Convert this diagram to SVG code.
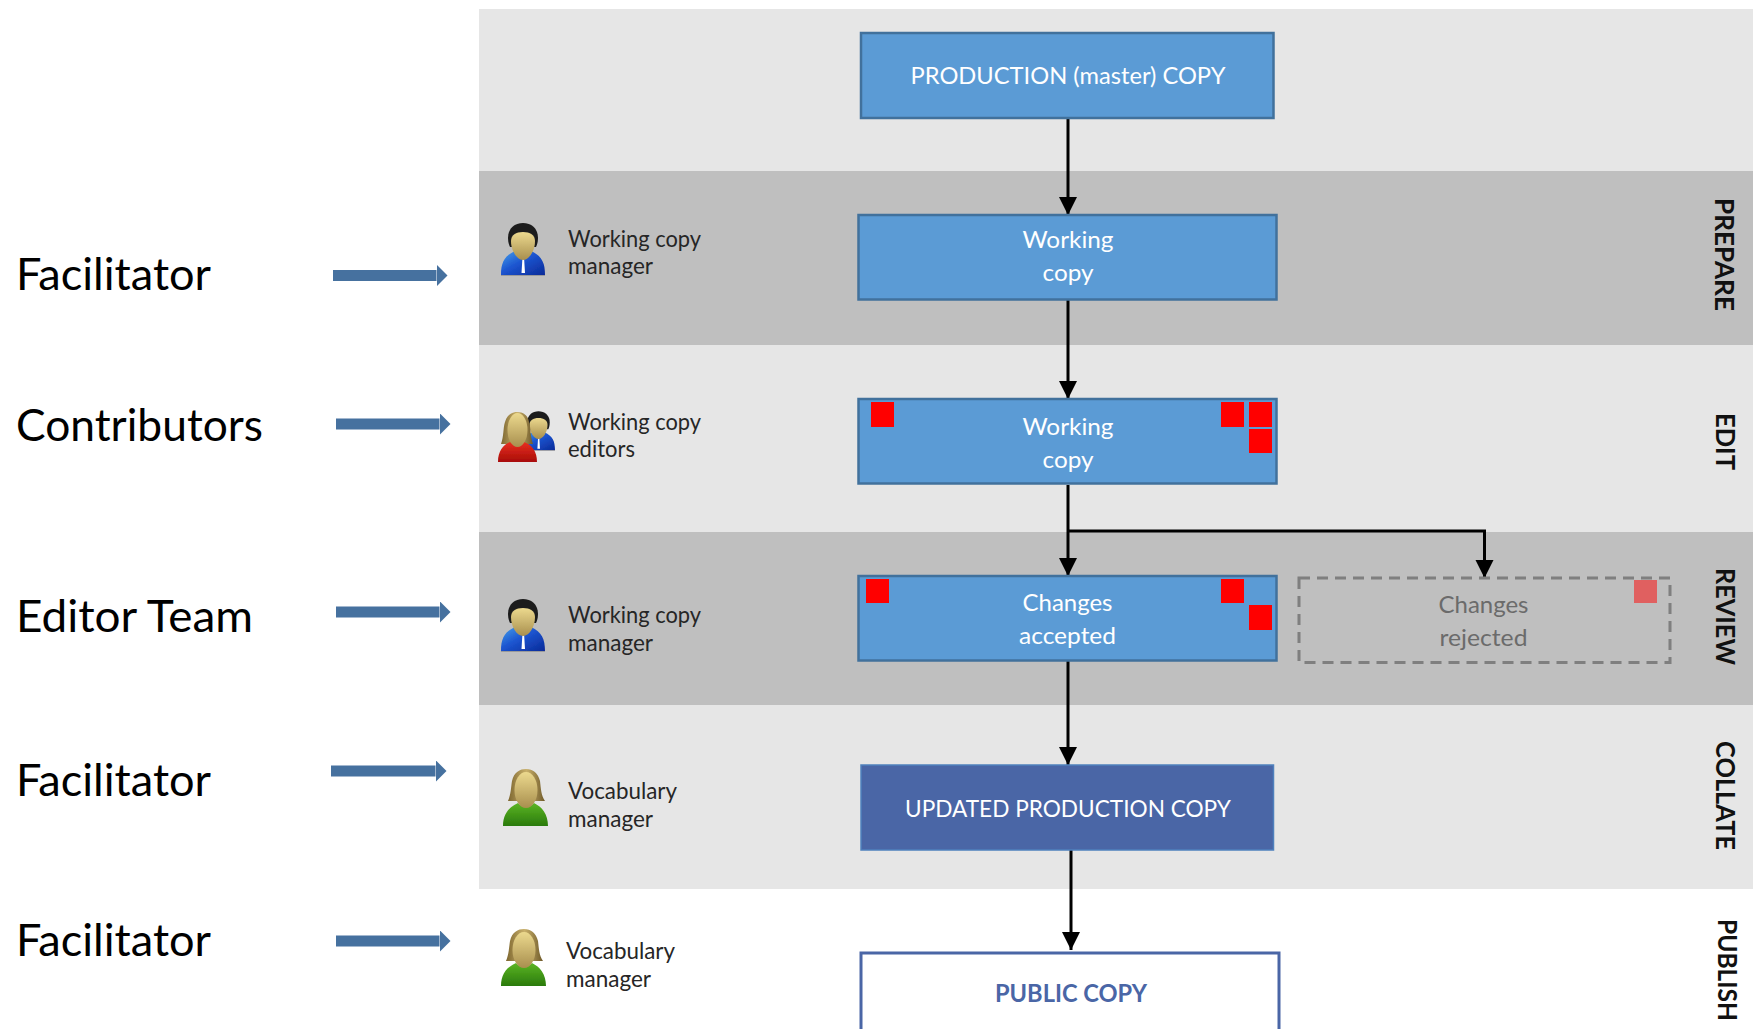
<svg xmlns="http://www.w3.org/2000/svg" xmlns:xlink="http://www.w3.org/1999/xlink" width="1753" height="1029" viewBox="0 0 1753 1029">
<style>
text{font-family:"Lato","Carlito","Open Sans","Liberation Sans",sans-serif}
.role{font-size:44px;fill:#000}
.small{font-size:23px;fill:#262626}
.box{fill:#5b9bd5;stroke:#41719c;stroke-width:2.500}
.boxt{font-size:24px;fill:#fff;text-anchor:middle}
.red{fill:#f00}
.side{font-size:27px;font-weight:700;fill:#111}
.conn{fill:none;stroke:#000;stroke-width:3;marker-end:url(#ah)}
.blue{stroke:#46719f;stroke-width:11;fill:none;marker-end:url(#bh)}
.icon{filter:url(#soft)}
</style>
<defs>
<filter id="soft" x="-10%" y="-10%" width="120%" height="120%"><feGaussianBlur stdDeviation="0.600"/></filter>
<marker id="ah" markerUnits="userSpaceOnUse" markerWidth="20" markerHeight="20" refX="18" refY="9" orient="auto"><path d="M0 0L18 9L0 18Z" fill="#000"/></marker>
<marker id="bh" markerUnits="userSpaceOnUse" markerWidth="12" markerHeight="22" refX="0" refY="11" orient="auto"><path d="M0 0L11 11L0 22Z" fill="#46719f"/></marker>
<linearGradient id="skin" x1="0" y1="0" x2="0" y2="1"><stop offset="0" stop-color="#ecd98e"/><stop offset="1" stop-color="#a88f4e"/></linearGradient>
<linearGradient id="hair" x1="0" y1="0" x2="1" y2="0"><stop offset="0" stop-color="#7d6630"/><stop offset=".5" stop-color="#c9b06a"/><stop offset="1" stop-color="#6f5a2a"/></linearGradient>
<linearGradient id="blueb" x1="0" y1="0" x2="1" y2="1"><stop offset="0" stop-color="#45a0ea"/><stop offset=".45" stop-color="#1c55d0"/><stop offset="1" stop-color="#0a2a98"/></linearGradient>
<linearGradient id="greenb" x1="0" y1="0" x2="0" y2="1"><stop offset="0" stop-color="#5cb524"/><stop offset="1" stop-color="#2a7a0c"/></linearGradient>
<linearGradient id="redb" x1="0" y1="0" x2="0" y2="1"><stop offset="0" stop-color="#e83020"/><stop offset="1" stop-color="#a80c08"/></linearGradient>
<symbol id="man" viewBox="0 0 44 53" overflow="visible">
<path d="M0 52C0 40 3 33 14 28L22 33L30 28C41 33 44 40 44 52Z" fill="url(#blueb)"/>
<path d="M21.500 34H23L24 50H20.500Z" fill="#fff"/>
<path d="M7 15C7 5 14 0 22 0C30 0 37 5 37 15C37 19 36 22 35 24H9C8 22 7 19 7 15Z" fill="#1f1f1f"/>
<path d="M10 18C10 12 15 9 22 9C29 9 34 12 34 18C34 28 28 37 22 37C16 37 10 28 10 18Z" fill="url(#skin)"/>
<path d="M0 52H44V53H0Z" fill="#9a9a9a"/>
</symbol>
<symbol id="womang" viewBox="0 0 45 58" overflow="visible">
<path d="M5 32C8 25 8 18 9 12C11 3 17 0 23 0C30 0 35 4 37 12C38 20 38 26 42 32Z" fill="url(#hair)"/>
<path d="M0 57C0 45 6 38 15 34Q23 42 31 34C39 38 45 45 45 57Z" fill="url(#greenb)"/>
<ellipse cx="23" cy="21" rx="11.500" ry="18" fill="url(#skin)"/>
</symbol>
<symbol id="womanr" viewBox="0 0 39 51" overflow="visible">
<path d="M3 32C6 24 5 16 7 10C9 3 14 0 19 0C25 0 30 3 31 10C33 16 32 24 35 32Z" fill="url(#hair)"/>
<path d="M0 50C0 39 5 33 12 30Q19 37 26 30C34 33 39 39 39 50Z" fill="url(#redb)"/>
<ellipse cx="19.500" cy="18" rx="10" ry="17" fill="url(#skin)"/>
</symbol>
</defs>
<rect width="1753" height="1029" fill="#fff"/>
<g id="bands">
<rect x="479" y="9" width="1274" height="162" fill="#e6e6e6"/>
<rect x="479" y="171" width="1274" height="174" fill="#bfbfbf"/>
<rect x="479" y="345" width="1274" height="187" fill="#e6e6e6"/>
<rect x="479" y="532" width="1274" height="173" fill="#bfbfbf"/>
<rect x="479" y="705" width="1274" height="184" fill="#e6e6e6"/>
</g>
<g id="connectors">
<path class="conn" d="M1068 118V215"/>
<path class="conn" d="M1068 300V399"/>
<path class="conn" d="M1068 485V576"/>
<path class="conn" d="M1068 531H1484.500V578"/>
<path class="conn" d="M1068 661V765"/>
<path class="conn" d="M1071 850V950"/>
<path class="blue" d="M333 275.500H436.500"/>
<path class="blue" d="M336 424H439.500"/>
<path class="blue" d="M336 612H439.500"/>
<path class="blue" d="M331 771H435.500"/>
<path class="blue" d="M336 941H439.500"/>
</g>
<g id="node-production"><rect class="box" x="861" y="33" width="412.500" height="85"/><text class="boxt" x="1068" y="84" textLength="315" lengthAdjust="spacingAndGlyphs">PRODUCTION (master) COPY</text></g>
<g id="node-working-1"><rect class="box" x="858.500" y="215" width="418" height="84.500"/><text class="boxt" x="1068" y="248" textLength="91" lengthAdjust="spacingAndGlyphs">Working</text><text class="boxt" x="1068" y="281" textLength="51" lengthAdjust="spacingAndGlyphs">copy</text></g>
<g id="node-working-2"><rect class="box" x="858.500" y="399" width="418" height="84.500"/>
<rect class="red" x="871" y="402" width="23" height="25"/><rect class="red" x="1221" y="402" width="23" height="25"/><rect class="red" x="1249" y="402" width="23" height="25"/><rect class="red" x="1249" y="429" width="23" height="24"/>
<text class="boxt" x="1068" y="435" textLength="91" lengthAdjust="spacingAndGlyphs">Working</text><text class="boxt" x="1068" y="468" textLength="51" lengthAdjust="spacingAndGlyphs">copy</text></g>
<g id="node-accepted"><rect class="box" x="858.500" y="576" width="418" height="84.500"/>
<rect class="red" x="866" y="579" width="23" height="24"/><rect class="red" x="1221" y="579" width="23" height="24"/><rect class="red" x="1249" y="605" width="23" height="25"/>
<text class="boxt" x="1067.500" y="611" textLength="90" lengthAdjust="spacingAndGlyphs">Changes</text><text class="boxt" x="1067.500" y="644" textLength="97" lengthAdjust="spacingAndGlyphs">accepted</text></g>
<g id="node-rejected"><rect x="1299" y="578" width="371" height="84.500" fill="none" stroke="#7f7f7f" stroke-width="3" stroke-dasharray="11 7"/>
<rect x="1634" y="580" width="23" height="23" fill="#e06060"/>
<text class="boxt" x="1483.500" y="613" textLength="90" lengthAdjust="spacingAndGlyphs" style="fill:#6b6b6b">Changes</text><text class="boxt" x="1483.500" y="646" textLength="88" lengthAdjust="spacingAndGlyphs" style="fill:#6b6b6b">rejected</text></g>
<g id="node-updated"><rect x="861" y="765" width="412.500" height="85" fill="#4a66a6" stroke="#4f81bd" stroke-width="1.500"/><text class="boxt" x="1068" y="817" textLength="326" lengthAdjust="spacingAndGlyphs">UPDATED PRODUCTION COPY</text></g>
<g id="node-public"><rect x="861" y="953" width="418" height="90" fill="#fff" stroke="#4a66a6" stroke-width="3"/><text class="boxt" x="1071" y="1002" textLength="152" lengthAdjust="spacingAndGlyphs" style="fill:#4a66a6;font-weight:700">PUBLIC COPY</text></g>
<g id="role-1"><text class="role" x="16" y="290" textLength="195" lengthAdjust="spacingAndGlyphs">Facilitator</text></g>
<g id="role-2"><text class="role" x="16" y="441" textLength="247" lengthAdjust="spacingAndGlyphs">Contributors</text></g>
<g id="role-3"><text class="role" x="16" y="632" textLength="237" lengthAdjust="spacingAndGlyphs">Editor Team</text></g>
<g id="role-4"><text class="role" x="16" y="796" textLength="195" lengthAdjust="spacingAndGlyphs">Facilitator</text></g>
<g id="role-5"><text class="role" x="16" y="956" textLength="195" lengthAdjust="spacingAndGlyphs">Facilitator</text></g>
<g id="actor-prepare"><use class="icon" href="#man" x="501" y="223" width="44" height="53"/><text class="small" x="568" y="247" textLength="133" lengthAdjust="spacingAndGlyphs">Working copy</text><text class="small" x="568" y="274" textLength="85" lengthAdjust="spacingAndGlyphs">manager</text></g>
<g id="actor-edit"><use class="icon" href="#man" x="522" y="407" width="33" height="48"/><use class="icon" href="#womanr" x="498" y="412" width="39" height="51"/><text class="small" x="568" y="430" textLength="133" lengthAdjust="spacingAndGlyphs">Working copy</text><text class="small" x="568" y="457" textLength="67" lengthAdjust="spacingAndGlyphs">editors</text></g>
<g id="actor-review"><use class="icon" href="#man" x="501" y="599" width="44" height="53"/><text class="small" x="568" y="623" textLength="133" lengthAdjust="spacingAndGlyphs">Working copy</text><text class="small" x="568" y="651" textLength="85" lengthAdjust="spacingAndGlyphs">manager</text></g>
<g id="actor-collate"><use class="icon" href="#womang" x="503" y="769" width="45" height="58"/><text class="small" x="568" y="799" textLength="109" lengthAdjust="spacingAndGlyphs">Vocabulary</text><text class="small" x="568" y="827" textLength="85" lengthAdjust="spacingAndGlyphs">manager</text></g>
<g id="actor-publish"><use class="icon" href="#womang" x="501" y="929" width="45" height="58"/><text class="small" x="566" y="959" textLength="109" lengthAdjust="spacingAndGlyphs">Vocabulary</text><text class="small" x="566" y="987" textLength="85" lengthAdjust="spacingAndGlyphs">manager</text></g>
<g id="phase-labels">
<text class="side" transform="translate(1715 198) rotate(90)" textLength="113" lengthAdjust="spacingAndGlyphs">PREPARE</text>
<text class="side" transform="translate(1716 413) rotate(90)" textLength="57" lengthAdjust="spacingAndGlyphs">EDIT</text>
<text class="side" transform="translate(1716 568) rotate(90)" textLength="97" lengthAdjust="spacingAndGlyphs">REVIEW</text>
<text class="side" transform="translate(1716 741) rotate(90)" textLength="109" lengthAdjust="spacingAndGlyphs">COLLATE</text>
<text class="side" transform="translate(1718 919) rotate(90)" textLength="102" lengthAdjust="spacingAndGlyphs">PUBLISH</text>
</g>
</svg>
